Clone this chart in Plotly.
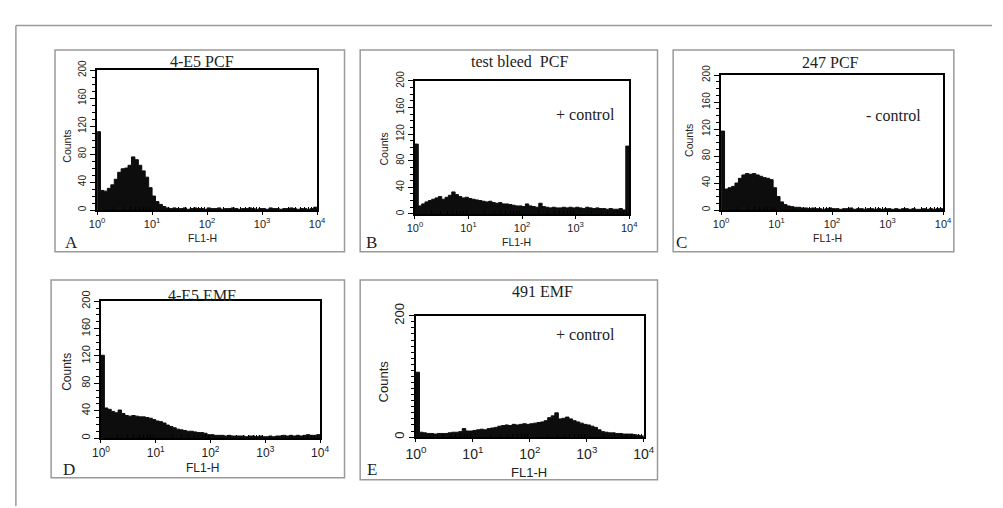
import plotly.graph_objects as go

# ---------------- data ----------------
# histogram channels: 16 bins per decade over 10^0 .. 10^4 (left edges)
bins_per_decade = 16
bin_edges = [10 ** (k / bins_per_decade) for k in range(64)] + [1e4]

x_tick_vals = [1, 10, 100, 1000, 10000]
x_tick_text = ["10<sup>0</sup>", "10<sup>1</sup>", "10<sup>2</sup>", "10<sup>3</sup>", "10<sup>4</sup>"]
y_tick_vals = [0, 40, 80, 120, 160, 200]
y_tick_vals_e = [0, 200]

titles = ["4-E5 PCF", "test bleed  PCF", "247 PCF", "4-E5 EMF", "491 EMF"]
letters = ["A", "B", "C", "D", "E"]
control_labels = ["", "+ control", "- control", "", "+ control"]

counts_a = [112, 28, 27, 31, 36, 44, 54, 59, 60, 64, 76, 72, 64, 56, 47, 32,
            20, 12, 8, 5, 3, 2, 3, 2, 2, 3, 1, 2, 3, 2, 2, 1, 3, 2, 2, 3,
            1, 2, 2, 3, 2, 1, 2, 2, 3, 2, 1, 2, 2, 1, 3, 2, 2, 1, 2, 2,
            3, 2, 1, 2, 2, 1, 2, 4]
counts_b = [105, 12, 15, 18, 20, 22, 24, 26, 22, 25, 28, 33, 29, 26, 24, 25,
            23, 22, 21, 20, 19, 18, 19, 17, 16, 17, 15, 15, 14, 13, 12, 12,
            11, 15, 12, 11, 10, 16, 11, 10, 9, 10, 9, 9, 10, 9, 10, 9,
            10, 9, 8, 10, 9, 8, 9, 8, 8, 7, 8, 7, 7, 8, 6, 102]
counts_c = [117, 31, 33, 35, 40, 47, 52, 54, 53, 54, 52, 50, 48, 47, 45, 33,
            20, 12, 8, 6, 5, 4, 4, 3, 3, 2, 3, 2, 2, 1, 2, 3, 2, 2,
            1, 2, 2, 3, 1, 2, 2, 1, 2, 2, 1, 2, 1, 2, 2, 1, 2, 1, 2, 2,
            1, 2, 1, 1, 2, 1, 2, 1, 2, 2]
counts_d = [121, 44, 42, 39, 37, 41, 36, 33, 32, 33, 32, 31, 31, 30, 29, 27,
            25, 24, 22, 19, 17, 15, 13, 12, 11, 10, 10, 9, 8, 8, 7, 5,
            5, 4, 4, 4, 3, 4, 3, 3, 3, 3, 2, 3, 3, 2, 3, 2,
            2, 3, 2, 3, 3, 4, 3, 4, 3, 4, 3, 4, 5, 4, 4, 5]
counts_e = [107, 8, 7, 6, 6, 5, 6, 6, 6, 7, 8, 8, 9, 14, 10, 10,
            11, 12, 13, 12, 14, 15, 16, 18, 19, 20, 19, 21, 20, 21, 22, 21,
            22, 23, 24, 25, 27, 32, 35, 40, 30, 31, 33, 30, 27, 25, 23, 21,
            20, 18, 16, 12, 9, 8, 7, 7, 6, 6, 5, 5, 5, 4, 3, 2]

all_counts = [counts_a, counts_b, counts_c, counts_d, counts_e]

# ---------------- layout (pixels) ----------------
W, H = 1003, 508


def fx(p):
    return p / W


def fy(p):
    return 1 - p / H


# plot areas: x0, x1, y0(top), y1(bottom)
plot_areas = [(88, 313, 59, 203), (413, 632, 70, 207), (726, 953, 64, 203),
              (92, 316, 297, 438), (414, 647, 312, 437)]
# panel frames: x0, y0, x1, y1
frames = [(45, 38, 341, 246), (357, 38, 661, 246), (677, 38, 964, 246),
          (41, 275, 341, 479), (357, 275, 661, 481)]
title_pos = [(195, 50), (520, 50), (838, 51), (195, 291), (543, 287)]
letter_pos = [(62, 236), (369, 236), (686, 236), (59, 470), (369, 470)]
control_pos = [None, (587, 105), (902, 106), None, (587, 331)]
counts_pos = [(57, 137), (381, 140), (693, 131), (57, 370), (381, 380)]
fl_pos = [(196, 232), (517, 236), (835, 232), (196, 469), (530, 473)]
tick_font_sizes = [11, 11, 11, 12, 14]
ytick_font_sizes = [10, 10, 10, 11, 13]
axis_label_sizes = [10.5, 10.5, 10.5, 12, 13]

minor_x = [m * 10 ** d for d in range(4) for m in range(2, 10)]

sans = "Liberation Sans, Arial, sans-serif"
serif = "Liberation Serif, Times New Roman, serif"
ink = "#0d0d0d"
txt = "#222222"

fig = go.Figure()
layout = dict(
    width=W, height=H, margin=dict(l=0, r=0, t=0, b=0),
    paper_bgcolor="white", plot_bgcolor="white", showlegend=False,
)
shapes = []
annotations = []

for i in range(5):
    n = "" if i == 0 else str(i + 1)
    x0, x1, y0, y1 = plot_areas[i]
    counts = all_counts[i]
    fig.add_trace(go.Scatter(
        x=bin_edges, y=counts + [counts[-1]], mode="lines",
        line=dict(shape="hv", color=ink, width=1),
        fill="tozeroy", fillcolor=ink,
        xaxis="x" + n, yaxis="y" + n, hoverinfo="skip",
    ))
    layout["xaxis" + n] = dict(
        type="log", range=[0, 4], domain=[fx(x0), fx(x1)], anchor="y" + n,
        showline=True, linecolor="black", linewidth=1.5, mirror=True,
        ticks="outside", ticklen=3, tickcolor="black",
        tickvals=x_tick_vals, ticktext=x_tick_text,
        tickfont=dict(family=sans, size=tick_font_sizes[i], color=txt),
        minor=dict(tickvals=minor_x, ticks="inside", ticklen=3, tickcolor="black"),
        showgrid=False, zeroline=False, fixedrange=True,
    )
    layout["yaxis" + n] = dict(
        range=[0, 200], domain=[fy(y1), fy(y0)], anchor="x" + n,
        showline=True, linecolor="black", linewidth=1.5, mirror=True,
        ticks="outside", ticklen=5, tickcolor="black",
        tickvals=y_tick_vals_e if i == 4 else y_tick_vals, tickangle=-90,
        tickfont=dict(family=sans, size=ytick_font_sizes[i], color=txt),
        minor=dict(dtick=10, ticks="outside", ticklen=3, tickcolor="black"),
        showgrid=False, zeroline=False, fixedrange=True,
    )
    fx0, fy0, fx1, fy1 = frames[i]
    shapes.append(dict(type="rect", xref="paper", yref="paper",
                       x0=fx(fx0), x1=fx(fx1), y0=fy(fy1), y1=fy(fy0),
                       line=dict(color="#9a9a9a", width=1.5), layer="below"))
    tx, ty = title_pos[i]
    annotations.append(dict(text=titles[i], x=fx(tx), y=fy(ty), xref="paper", yref="paper",
                            showarrow=False, xanchor="center", yanchor="middle",
                            font=dict(family=serif, size=16, color=txt)))
    lx, ly = letter_pos[i]
    annotations.append(dict(text=letters[i], x=fx(lx), y=fy(ly), xref="paper", yref="paper",
                            showarrow=False, xanchor="center", yanchor="middle",
                            font=dict(family=serif, size=17, color=txt)))
    if control_pos[i]:
        cx, cy = control_pos[i]
        annotations.append(dict(text=control_labels[i], x=fx(cx), y=fy(cy), xref="paper", yref="paper",
                                showarrow=False, xanchor="center", yanchor="middle",
                                font=dict(family=serif, size=16, color=txt)))
    ax_, ay_ = counts_pos[i]
    annotations.append(dict(text="Counts", x=fx(ax_), y=fy(ay_), xref="paper", yref="paper",
                            showarrow=False, xanchor="center", yanchor="middle", textangle=-90,
                            font=dict(family=sans, size=axis_label_sizes[i], color=txt)))
    flx, fly = fl_pos[i]
    annotations.append(dict(text="FL1-H", x=fx(flx), y=fy(fly), xref="paper", yref="paper",
                            showarrow=False, xanchor="center", yanchor="middle",
                            font=dict(family=sans, size=axis_label_sizes[i], color=txt)))

# outer figure frame (top and left edges)
shapes.append(dict(type="line", xref="paper", yref="paper", x0=fx(5), x1=1, y0=fy(13), y1=fy(13),
                   line=dict(color="#9a9a9a", width=1.5)))
shapes.append(dict(type="line", xref="paper", yref="paper", x0=fx(5), x1=fx(5), y0=0, y1=fy(13),
                   line=dict(color="#9a9a9a", width=1.5)))

layout["shapes"] = shapes
layout["annotations"] = annotations
fig.update_layout(**layout)
fig.write_html("out.html")
